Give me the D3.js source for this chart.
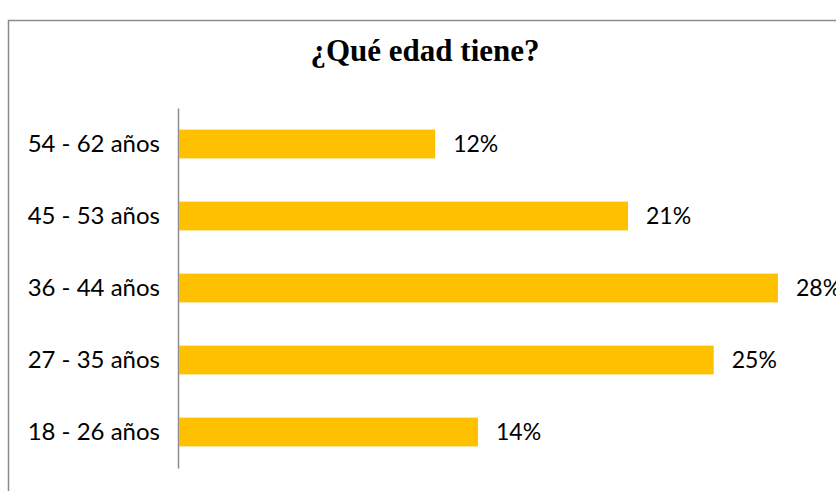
<!DOCTYPE html>
<html>
<head>
<meta charset="utf-8">
<script src="https://cdn.jsdelivr.net/npm/d3@7"></script>
<style>
  body { margin: 0; background: #fff; }
  svg { display: block; }
</style>
</head>
<body>
<script>
// Chart data
let categories = ["54 - 62 años", "45 - 53 años", "36 - 44 años", "27 - 35 años", "18 - 26 años"];
let values = [12, 21, 28, 25, 14];
let valueLabels = ["12%", "21%", "28%", "25%", "14%"];
let title = "¿Qué edad tiene?";

let svgWidth = 836;
let svgHeight = 491;

let chartMargin = { top: 108, right: 58, bottom: 23, left: 178 };
let chartWidth = svgWidth - chartMargin.left - chartMargin.right;
let chartHeight = svgHeight - chartMargin.top - chartMargin.bottom;

let svg = d3.select("body")
  .append("svg")
  .attr("width", svgWidth)
  .attr("height", svgHeight);

// outer frame (right/bottom edges fall outside the picture)
svg.append("rect")
  .attr("x", 8.5)
  .attr("y", 20.5)
  .attr("width", 900)
  .attr("height", 600)
  .attr("fill", "none")
  .attr("stroke", "#8c8c8c")
  .attr("stroke-width", 1.5);

svg.append("text")
  .attr("x", 425)
  .attr("y", 61)
  .attr("text-anchor", "middle")
  .style("font-family", "'Liberation Serif', 'Times New Roman', serif")
  .style("font-weight", "bold")
  .style("font-size", "31px")
  .attr("fill", "#000")
  .text(title);

let chartGroup = svg.append("g")
  .attr("transform", `translate(${chartMargin.left}, ${chartMargin.top})`);

let xScale = d3.scaleLinear().domain([0, 28]).range([0, 600]);

let yScale = d3.scaleBand()
  .domain(categories)
  .range([0, chartHeight])
  .paddingInner(0.6)
  .paddingOuter(0.3);

// category axis
let yAxis = d3.axisLeft(yScale).tickSize(0).tickPadding(18);
let yAxisG = chartGroup.append("g").call(yAxis);
yAxisG.select(".domain").attr("stroke", "#8c8c8c").attr("stroke-width", 1.5);
yAxisG.selectAll("text")
  .style("font-family", "Lato, 'Open Sans', sans-serif")
  .style("font-size", "24px")
  .attr("fill", "#000");

chartGroup.selectAll(".bar")
  .data(values)
  .enter()
  .append("rect")
  .classed("bar", true)
  .attr("x", 1)
  .attr("y", (d, i) => yScale(categories[i]))
  .attr("width", d => xScale(d) - 1)
  .attr("height", yScale.bandwidth())
  .attr("fill", "#FFC000");

chartGroup.selectAll(".val")
  .data(values)
  .enter()
  .append("text")
  .classed("val", true)
  .attr("x", d => xScale(d) + 18)
  .attr("y", (d, i) => yScale(categories[i]) + yScale.bandwidth() / 2)
  .attr("dy", "0.35em")
  .style("font-family", "Lato, 'Open Sans', sans-serif")
  .style("font-size", "23px")
  .attr("fill", "#000")
  .text((d, i) => valueLabels[i]);
</script>
</body>
</html>
